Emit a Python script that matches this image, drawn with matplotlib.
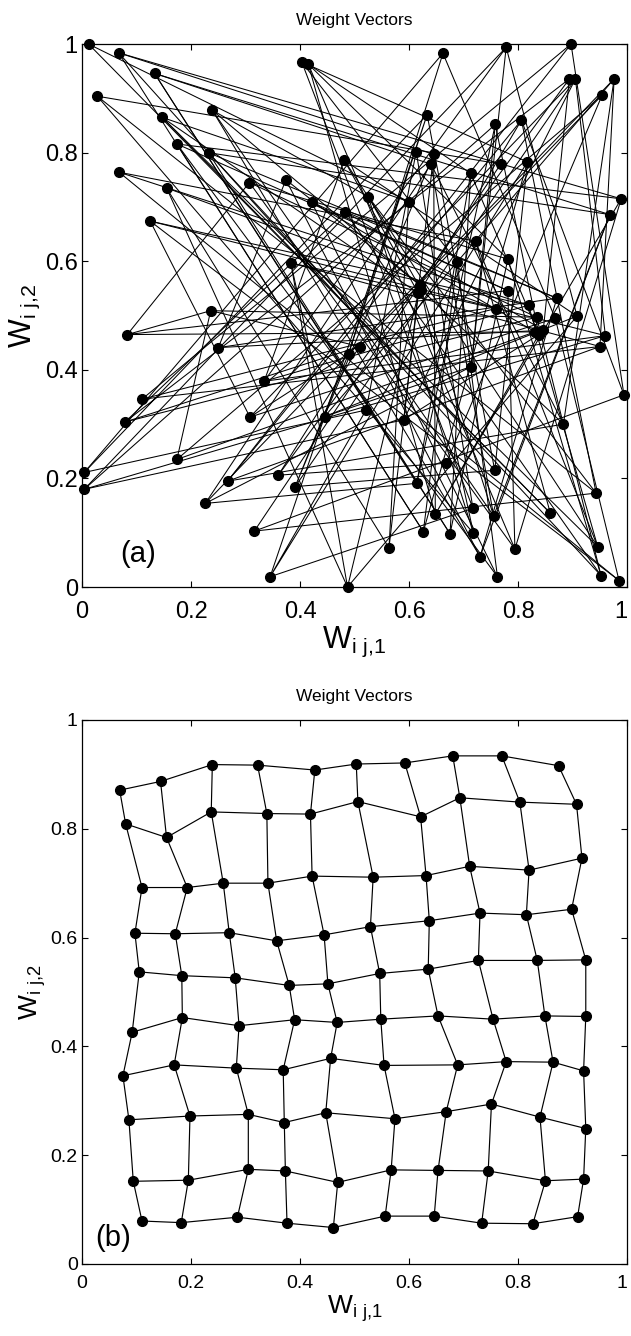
import numpy as np
from matplotlib import pyplot as plt
from matplotlib.ticker import FuncFormatter

plt.rcParams['font.family'] = ['Liberation Sans', 'DejaVu Sans']
plt.rcParams['mathtext.default'] = 'regular'

# panel (a): initial weight vectors
wa_x = [0.012, 0.067, 0.133, 0.028, 0.403, 0.415, 0.239, 0.147, 0.174, 0.232,
        0.068, 0.155, 0.307, 0.374, 0.481, 0.421, 0.483, 0.125, 0.383, 0.236,
        0.662, 0.778, 0.897, 0.894, 0.905, 0.976, 0.954, 0.633, 0.758, 0.806,
        0.613, 0.645, 0.640, 0.768, 0.817, 0.713, 0.525, 0.599, 0.989, 0.968,
        0.722, 0.688, 0.781, 0.620, 0.617, 0.781, 0.871, 0.819, 0.759, 0.834,
        0.868, 0.908, 0.831, 0.846, 0.960, 0.950, 0.509, 0.489, 0.714, 0.994,
        0.521, 0.590, 0.883, 0.668, 0.757, 0.614, 0.943, 0.717, 0.648, 0.755,
        0.859, 0.626, 0.675, 0.718, 0.563, 0.794, 0.730, 0.946, 0.762, 0.952,
        0.985, 0.487, 0.083, 0.250, 0.334, 0.110, 0.079, 0.308, 0.445, 0.174,
        0.004, 0.004, 0.267, 0.360, 0.391, 0.226, 0.316, 0.345, 0.838, 0.622]
wa_y = [1.000, 0.984, 0.946, 0.904, 0.967, 0.963, 0.878, 0.865, 0.816, 0.800,
        0.764, 0.735, 0.745, 0.750, 0.786, 0.709, 0.691, 0.674, 0.597, 0.509,
        0.983, 0.994, 1.000, 0.936, 0.936, 0.936, 0.906, 0.870, 0.852, 0.860,
        0.802, 0.797, 0.779, 0.779, 0.783, 0.762, 0.719, 0.710, 0.715, 0.686,
        0.637, 0.599, 0.604, 0.556, 0.541, 0.546, 0.532, 0.519, 0.513, 0.497,
        0.495, 0.499, 0.470, 0.473, 0.463, 0.443, 0.443, 0.430, 0.406, 0.354,
        0.326, 0.308, 0.300, 0.228, 0.215, 0.191, 0.173, 0.145, 0.134, 0.131,
        0.136, 0.102, 0.098, 0.099, 0.072, 0.070, 0.056, 0.074, 0.019, 0.021,
        0.012, 0.000, 0.465, 0.441, 0.379, 0.346, 0.304, 0.313, 0.314, 0.235,
        0.211, 0.180, 0.195, 0.206, 0.185, 0.154, 0.103, 0.019, 0.465, 0.548]

# panel (b): trained map, rows top -> bottom, columns left -> right
wb_x = [[0.069, 0.144, 0.239, 0.322, 0.427, 0.503, 0.592, 0.680, 0.770, 0.874],
        [0.080, 0.155, 0.237, 0.339, 0.419, 0.506, 0.621, 0.693, 0.803, 0.907],
        [0.110, 0.193, 0.259, 0.341, 0.422, 0.534, 0.631, 0.711, 0.820, 0.917],
        [0.097, 0.171, 0.270, 0.357, 0.444, 0.529, 0.637, 0.730, 0.815, 0.898],
        [0.105, 0.183, 0.281, 0.380, 0.451, 0.546, 0.635, 0.727, 0.835, 0.924],
        [0.092, 0.184, 0.288, 0.390, 0.468, 0.548, 0.653, 0.754, 0.849, 0.924],
        [0.075, 0.169, 0.283, 0.369, 0.456, 0.554, 0.689, 0.778, 0.864, 0.920],
        [0.086, 0.198, 0.305, 0.371, 0.447, 0.574, 0.668, 0.751, 0.840, 0.924],
        [0.094, 0.195, 0.305, 0.373, 0.469, 0.567, 0.653, 0.745, 0.850, 0.920],
        [0.110, 0.182, 0.285, 0.376, 0.461, 0.556, 0.646, 0.733, 0.827, 0.909]]
wb_y = [[0.871, 0.887, 0.918, 0.917, 0.908, 0.919, 0.921, 0.934, 0.934, 0.916],
        [0.809, 0.784, 0.831, 0.828, 0.827, 0.850, 0.822, 0.857, 0.849, 0.845],
        [0.692, 0.692, 0.700, 0.700, 0.713, 0.711, 0.714, 0.731, 0.724, 0.746],
        [0.608, 0.607, 0.609, 0.594, 0.605, 0.620, 0.631, 0.645, 0.642, 0.652],
        [0.537, 0.530, 0.526, 0.512, 0.515, 0.534, 0.542, 0.558, 0.558, 0.559],
        [0.426, 0.453, 0.438, 0.449, 0.444, 0.450, 0.456, 0.450, 0.456, 0.455],
        [0.346, 0.366, 0.360, 0.357, 0.378, 0.365, 0.366, 0.372, 0.371, 0.355],
        [0.265, 0.272, 0.275, 0.260, 0.278, 0.267, 0.280, 0.294, 0.270, 0.249],
        [0.152, 0.154, 0.174, 0.171, 0.150, 0.173, 0.172, 0.171, 0.153, 0.156],
        [0.079, 0.076, 0.086, 0.075, 0.067, 0.088, 0.088, 0.075, 0.074, 0.087]]

ticks = [0, 0.2, 0.4, 0.6, 0.8, 1]

# node order on the 10x10 map for the untrained weights (scrambled)
order = [(k * 37) % 100 for k in range(100)]
Xa = np.array(wa_x)[order].reshape(10, 10)
Ya = np.array(wa_y)[order].reshape(10, 10)
Xb = np.array(wb_x)
Yb = np.array(wb_y)


def draw_map(ax, X, Y, tick_fs, lab_fs, xpad, lw):
    for r in range(X.shape[0]):
        ax.plot(X[r], Y[r], color='black', lw=lw, zorder=2, clip_on=False)
    for c in range(X.shape[1]):
        ax.plot(X[:, c], Y[:, c], color='black', lw=lw, zorder=2, clip_on=False)
    ax.plot(X.ravel(), Y.ravel(), 'o', color='black', ms=7, zorder=3, clip_on=False)
    ax.set_xlim(0, 1)
    ax.set_ylim(0, 1)
    ax.set_xticks(ticks)
    ax.set_yticks(ticks)
    fmt = FuncFormatter(lambda v, p: '%g' % v)
    ax.xaxis.set_major_formatter(fmt)
    ax.yaxis.set_major_formatter(fmt)
    ax.tick_params(direction='in', top=True, right=True, length=4, width=0.8,
                   labelsize=tick_fs)
    ax.tick_params(axis='x', pad=xpad)
    ax.tick_params(axis='y', pad=3)
    # last x label sits at the figure edge, keep it inside
    ax.get_xticklabels()[-1].set_horizontalalignment('right')
    for s in ax.spines.values():
        s.set_linewidth(0.9)
    ax.set_title('Weight Vectors', fontsize=12.5, pad=14)
    ax.set_xlabel(r'$W_{i\ j{,}1}$', fontsize=lab_fs, labelpad=1)
    ax.set_ylabel(r'$W_{i\ j{,}2}$', fontsize=lab_fs, labelpad=2)


fig = plt.figure(figsize=(6.31, 13.36), dpi=100)
ax1 = fig.add_axes([0.130, 0.5606, 0.864, 0.4064])
ax2 = fig.add_axes([0.130, 0.0539, 0.864, 0.4072])

draw_map(ax1, Xa, Ya, 17, 22, 10, 0.75)
ax1.text(0.07, 0.06, '(a)', fontsize=21, va='center', ha='left')

draw_map(ax2, Xb, Yb, 14, 19, 8, 0.85)
ax2.text(0.025, 0.048, '(b)', fontsize=21, va='center', ha='left')

fig.savefig('out.png', dpi=100)
